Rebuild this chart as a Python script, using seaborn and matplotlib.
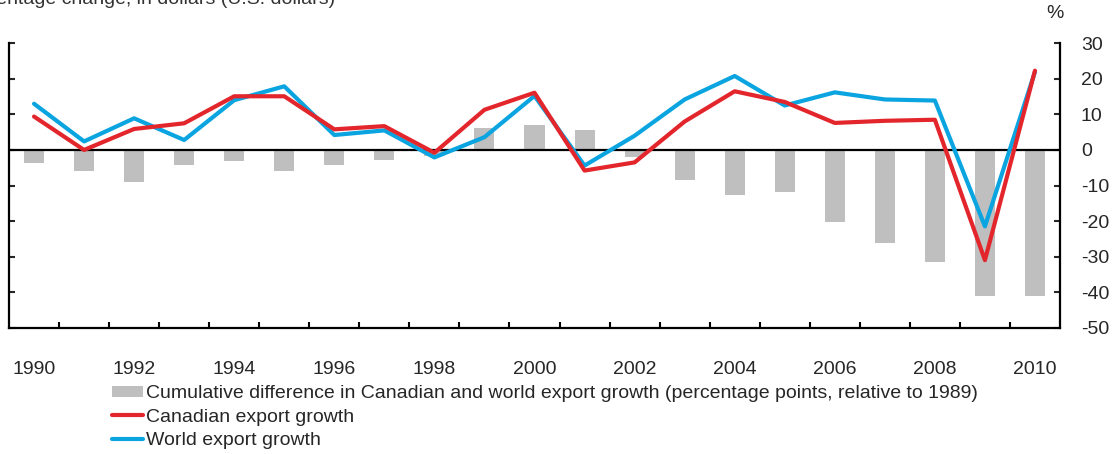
import numpy as np
import pandas as pd
import matplotlib
matplotlib.use("Agg")
import matplotlib.pyplot as plt
from matplotlib.ticker import FixedLocator
from matplotlib.patches import Patch
from matplotlib.lines import Line2D
import seaborn as sns

years = list(range(1990, 2011))
cumulative_diff = [-3.6, -6.0, -8.9, -4.2, -3.1, -6.0, -4.3, -2.9, -1.8, 6.1, 7.0,
                   5.5, -2.1, -8.4, -12.7, -11.7, -20.2, -26.2, -31.6, -41.2, -41.2]
canada_growth = [9.4, 0.0, 5.9, 7.5, 15.1, 15.1, 5.8, 6.7, -0.8, 11.3, 16.1,
                 -5.8, -3.5, 8.0, 16.5, 13.5, 7.6, 8.2, 8.5, -31.0, 22.3]
world_growth = [13.0, 2.4, 8.9, 2.8, 14.0, 17.9, 4.2, 5.5, -2.1, 3.6, 15.2,
                -4.4, 4.0, 14.2, 20.8, 12.5, 16.2, 14.2, 13.9, -21.5, 22.0]
year_labels = [str(y) for y in years[::2]]
y_ticks = [-50, -40, -30, -20, -10, 0, 10, 20, 30]

legend_labels = [
    "Cumulative difference in Canadian and world export growth (percentage points, relative to 1989)",
    "Canadian export growth",
    "World export growth",
]

df = pd.DataFrame({"year": years, "diff": cumulative_diff,
                   "can": canada_growth, "world": world_growth})

sns.set_style("ticks")
plt.rcParams["font.family"] = ["Liberation Sans", "DejaVu Sans"]

GRAY = "#BFBFBF"
RED = "#E3262C"
BLUE = "#0AA5E0"
FS = 14

fig = plt.figure(figsize=(11.13, 4.54), dpi=100)
ax = fig.add_axes([9 / 1113, 1 - 327.7 / 454, (1060 - 9) / 1113, (327.7 - 43.3) / 454])

sns.barplot(data=df, x="year", y="diff", native_scale=True, width=0.4,
            color=GRAY, saturation=1, ax=ax, zorder=1, edgecolor="none")
ax.axhline(0, color="black", lw=1.6, zorder=2)
sns.lineplot(data=df, x="year", y="world", color=BLUE, lw=3.0, ax=ax, zorder=3)
sns.lineplot(data=df, x="year", y="can", color=RED, lw=3.0, ax=ax, zorder=4)

ax.set_xlim(years[0] - 0.5, years[-1] + 0.5)
ax.set_ylim(-50, 30)
ax.set_xlabel("")
ax.set_ylabel("")

for s in ["left", "right", "bottom"]:
    ax.spines[s].set_visible(True)
    ax.spines[s].set_linewidth(1.6)
    ax.spines[s].set_color("black")
ax.spines["top"].set_visible(False)

ax.xaxis.set_major_locator(FixedLocator(years[::2]))
ax.set_xticklabels(year_labels)
ax.xaxis.set_minor_locator(FixedLocator([y + 0.5 for y in years[:-1]]))
ax.tick_params(axis="x", which="major", length=0, pad=24, labelsize=FS)
ax.tick_params(axis="x", which="minor", direction="in", length=4.5, width=1.5, color="black")

ax.set_yticks(y_ticks)
ax.set_yticklabels([str(v) for v in y_ticks])
ax.tick_params(axis="y", left=True, right=True, labelleft=False, labelright=True,
               direction="in", length=4.5, width=1.5, pad=15, labelsize=FS)

fig.text(1055 / 1113, 1 - 14 / 454, "%", fontsize=FS, ha="center", va="center")
fig.text(335 / 1113, 1 - 4 / 454, "Percentage change, in dollars (U.S. dollars)",
         fontsize=FS, ha="right", va="baseline", color="#333333")

handles = [Patch(facecolor=GRAY, edgecolor="none"),
           Line2D([], [], color=RED, lw=3.0),
           Line2D([], [], color=BLUE, lw=3.0)]
fig.legend(handles, legend_labels, loc="upper left",
           bbox_to_anchor=(112 / 1113, 1 - 385.5 / 454), frameon=False,
           fontsize=FS, handlelength=1.6, handletextpad=0.15, labelspacing=0.32,
           borderpad=0, borderaxespad=0, handleheight=0.55)

fig.savefig("out.png", dpi=100)
